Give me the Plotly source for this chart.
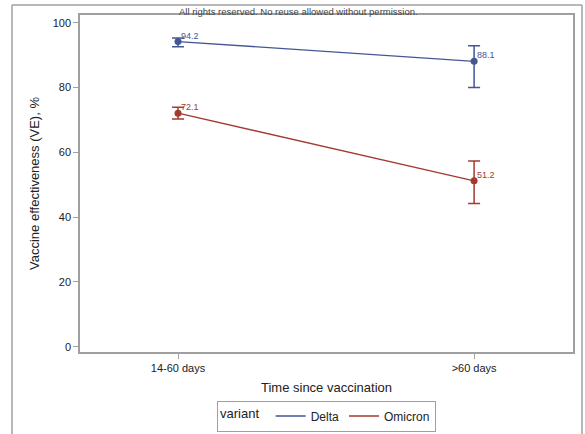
import plotly.graph_objects as go

categories = ["14-60 days", ">60 days"]
x_pos = [0, 1]
variants = ["Delta", "Omicron"]
ve_delta = [94.2, 88.1]
lo_delta = [92.6, 80.0]
hi_delta = [95.3, 92.9]
ve_omicron = [72.1, 51.2]
lo_omicron = [70.3, 44.2]
hi_omicron = [73.9, 57.3]
colors = {"Delta": "#445694", "Omicron": "#A23A2E"}

series = {
    "Delta": (ve_delta, lo_delta, hi_delta),
    "Omicron": (ve_omicron, lo_omicron, hi_omicron),
}

fig = go.Figure()
font_family = "Liberation Sans, Arial, sans-serif"

for name in variants:
    vals, lo, hi = series[name]
    c = colors[name]
    fig.add_trace(go.Scatter(
        x=x_pos, y=vals, mode="lines", name=name,
        line=dict(color=c, width=1.3), showlegend=True, hoverinfo="skip"))
    fig.add_trace(go.Scatter(
        x=x_pos, y=vals, mode="markers", name=name, showlegend=False,
        marker=dict(color=c, size=7),
        error_y=dict(type="data", symmetric=False,
                     array=[h - v for h, v in zip(hi, vals)],
                     arrayminus=[v - l for v, l in zip(vals, lo)],
                     color=c, thickness=1.5, width=6)))
    for xv, v in zip(x_pos, vals):
        fig.add_annotation(x=xv, y=v, text=f"{v}", showarrow=False,
                           xanchor="left", yanchor="middle", xshift=1, yshift=6,
                           font=dict(size=9, color=c, family=font_family))

L, R, T, B = 80, 12, 15, 82
W, H = 585, 434
pw, ph = W - L - R, H - T - B

def px(x):
    return (x - L) / pw

def py(y):
    return (H - B - y) / ph

# outer frame lines
for x0, y0, x1, y1 in [(12, 5, 582, 5), (12, 5, 12, 440), (582, 5, 582, 440)]:
    fig.add_shape(type="line", xref="paper", yref="paper",
                  x0=px(x0), y0=py(y0), x1=px(x1), y1=py(y1),
                  line=dict(color="#a0a0a0", width=1.5))

fig.add_annotation(xref="paper", yref="paper", x=px(298), y=py(11),
                   text="All rights reserved. No reuse allowed without permission.",
                   showarrow=False, xanchor="center", yanchor="middle",
                   font=dict(size=9.5, color="#444", family=font_family))

fig.update_layout(
    width=W, height=H,
    margin=dict(l=L, r=R, t=T, b=B, autoexpand=False),
    paper_bgcolor="white", plot_bgcolor="white",
    font=dict(family=font_family, color="#222"),
    xaxis=dict(range=[-0.331, 1.334], tickvals=x_pos, ticktext=categories,
               showgrid=False, zeroline=False, showline=True, mirror=True,
               linecolor="#a0a0a0", linewidth=1.5, ticks="outside", ticklen=5,
               tickcolor="#a0a0a0", tickfont=dict(size=11, color="#222"),
               title=dict(text="Time since vaccination", font=dict(size=13, color="#222"),
                          standoff=10)),
    yaxis=dict(range=[-1.64, 102.4], tickvals=[0, 20, 40, 60, 80, 100],
               showgrid=False, zeroline=False, showline=True, mirror=True,
               linecolor="#a0a0a0", linewidth=1.5, ticks="outside", ticklen=5,
               tickcolor="#a0a0a0", tickfont=dict(size=11, color="#222"),
               title=dict(text="Vaccine effectiveness (VE), %", font=dict(size=13, color="#222"),
                          standoff=10)),
    legend=dict(orientation="h", x=0.5, xanchor="center", y=py(416), yanchor="middle",
                bordercolor="#a0a0a0", borderwidth=1, bgcolor="white",
                title=dict(text="variant ", font=dict(size=13, color="#222")),
                font=dict(size=12, color="#222"), itemwidth=30, tracegroupgap=0,
                valign="middle"),
)

fig.write_html("out.html")
